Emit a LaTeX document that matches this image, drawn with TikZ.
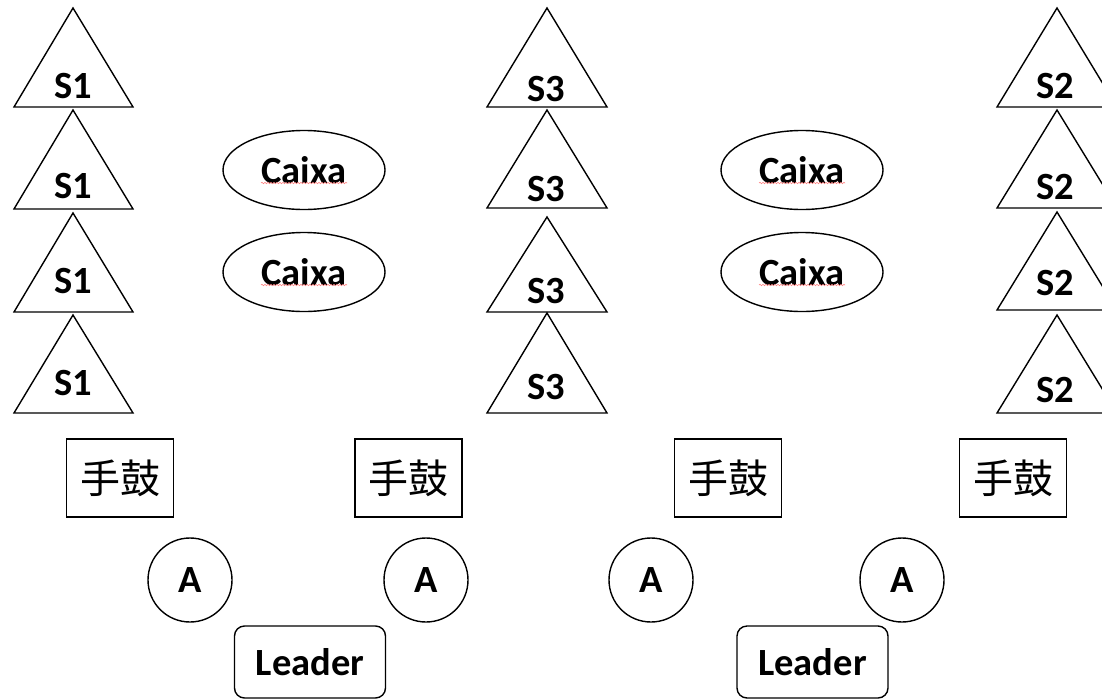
\documentclass[tikz,border=0pt]{standalone}
\usepackage{fontspec}
\setmainfont{Carlito}
\newfontfamily\cjk{Noto Sans CJK SC}
\usetikzlibrary{shapes.geometric,decorations.pathmorphing}
\tikzset{
  shp/.style={draw=black, line width=1.4pt},
  lbl/.style={font=\fontsize{38.5}{44}\selectfont\bfseries, inner sep=0pt},
  caixa/.style={shp, ellipse, minimum width=162pt, minimum height=79pt, inner sep=0pt, font=\fontsize{38.5}{44}\selectfont\bfseries},
  drum/.style={shp, rectangle, minimum width=107pt, minimum height=78pt, inner sep=0pt, font=\fontsize{40}{44}\selectfont\cjk},
  acirc/.style={shp, circle, minimum size=84pt, inner sep=0pt, font=\fontsize{38.5}{44}\selectfont\bfseries},
  leader/.style={shp, rectangle, rounded corners=10pt, minimum width=151pt, minimum height=72pt, inner sep=0pt, font=\fontsize{38.5}{44}\selectfont\bfseries},
  squig/.style={draw=red!50, line width=0.6pt, decorate, decoration={snake, amplitude=0.7pt, segment length=3pt}}
}
\begin{document}
\begin{tikzpicture}[x=1pt,y=-1pt]
\useasboundingbox (0,0) rectangle (1102,699);
\fill[white] (0,0) rectangle (1102,699);
\clip (0,0) rectangle (1102,699);
% S1 column
\foreach \t/\b in {8/107,110/209,213/312,315/413}{
  \draw[shp] (73,\t) -- (133,\b) -- (14,\b) -- cycle;
}
\node[lbl] (s1a) at (73,86) {S1};
\node[lbl] (s1b) at (73,186) {S1};
\node[lbl] (s1c) at (73,281) {S1};
\node[lbl] (s1d) at (73,383) {S1};
% S3 column
\foreach \t/\b in {8/107,110/208,217/312,313/413}{
  \draw[shp] (547,\t) -- (607,\b) -- (487,\b) -- cycle;
}
\node[lbl] (s3a) at (546,89) {S3};
\node[lbl] (s3b) at (546,189) {S3};
\node[lbl] (s3c) at (546,291) {S3};
\node[lbl] (s3d) at (546,387) {S3};
% S2 column
\foreach \t/\b in {8/107,110/208,212/310,315/413}{
  \draw[shp] (1057,\t) -- (1117,\b) -- (997,\b) -- cycle;
}
\node[lbl] (s2a) at (1055,86) {S2};
\node[lbl] (s2b) at (1055,187) {S2};
\node[lbl] (s2c) at (1055,283) {S2};
\node[lbl] (s2d) at (1055,390) {S2};
% Caixa ellipses
\node[caixa] (c1) at (304,170) {Caixa};
\node[caixa] (c2) at (304,272) {Caixa};
\node[caixa] (c3) at (802,170) {Caixa};
\node[caixa] (c4) at (802,272) {Caixa};
\foreach \n in {c1,c2,c3,c4}{
  \draw[squig] ([xshift=-43pt,yshift=-13pt]\n.center) -- ([xshift=43pt,yshift=-13pt]\n.center);
}
% drum boxes
\node[drum] (d1) at (120,478) {手鼓};
\node[drum] (d2) at (408.5,478) {手鼓};
\node[drum] (d3) at (728,478) {手鼓};
\node[drum] (d4) at (1013,478) {手鼓};
% A circles
\node[acirc] (a1) at (190,580) {A};
\node[acirc] (a2) at (426,580) {A};
\node[acirc] (a3) at (651,580) {A};
\node[acirc] (a4) at (902,580) {A};
% leaders
\node[leader] (l1) at (310,662) {Leader};
\node[leader] (l2) at (812.5,662) {Leader};
\end{tikzpicture}
\end{document}
